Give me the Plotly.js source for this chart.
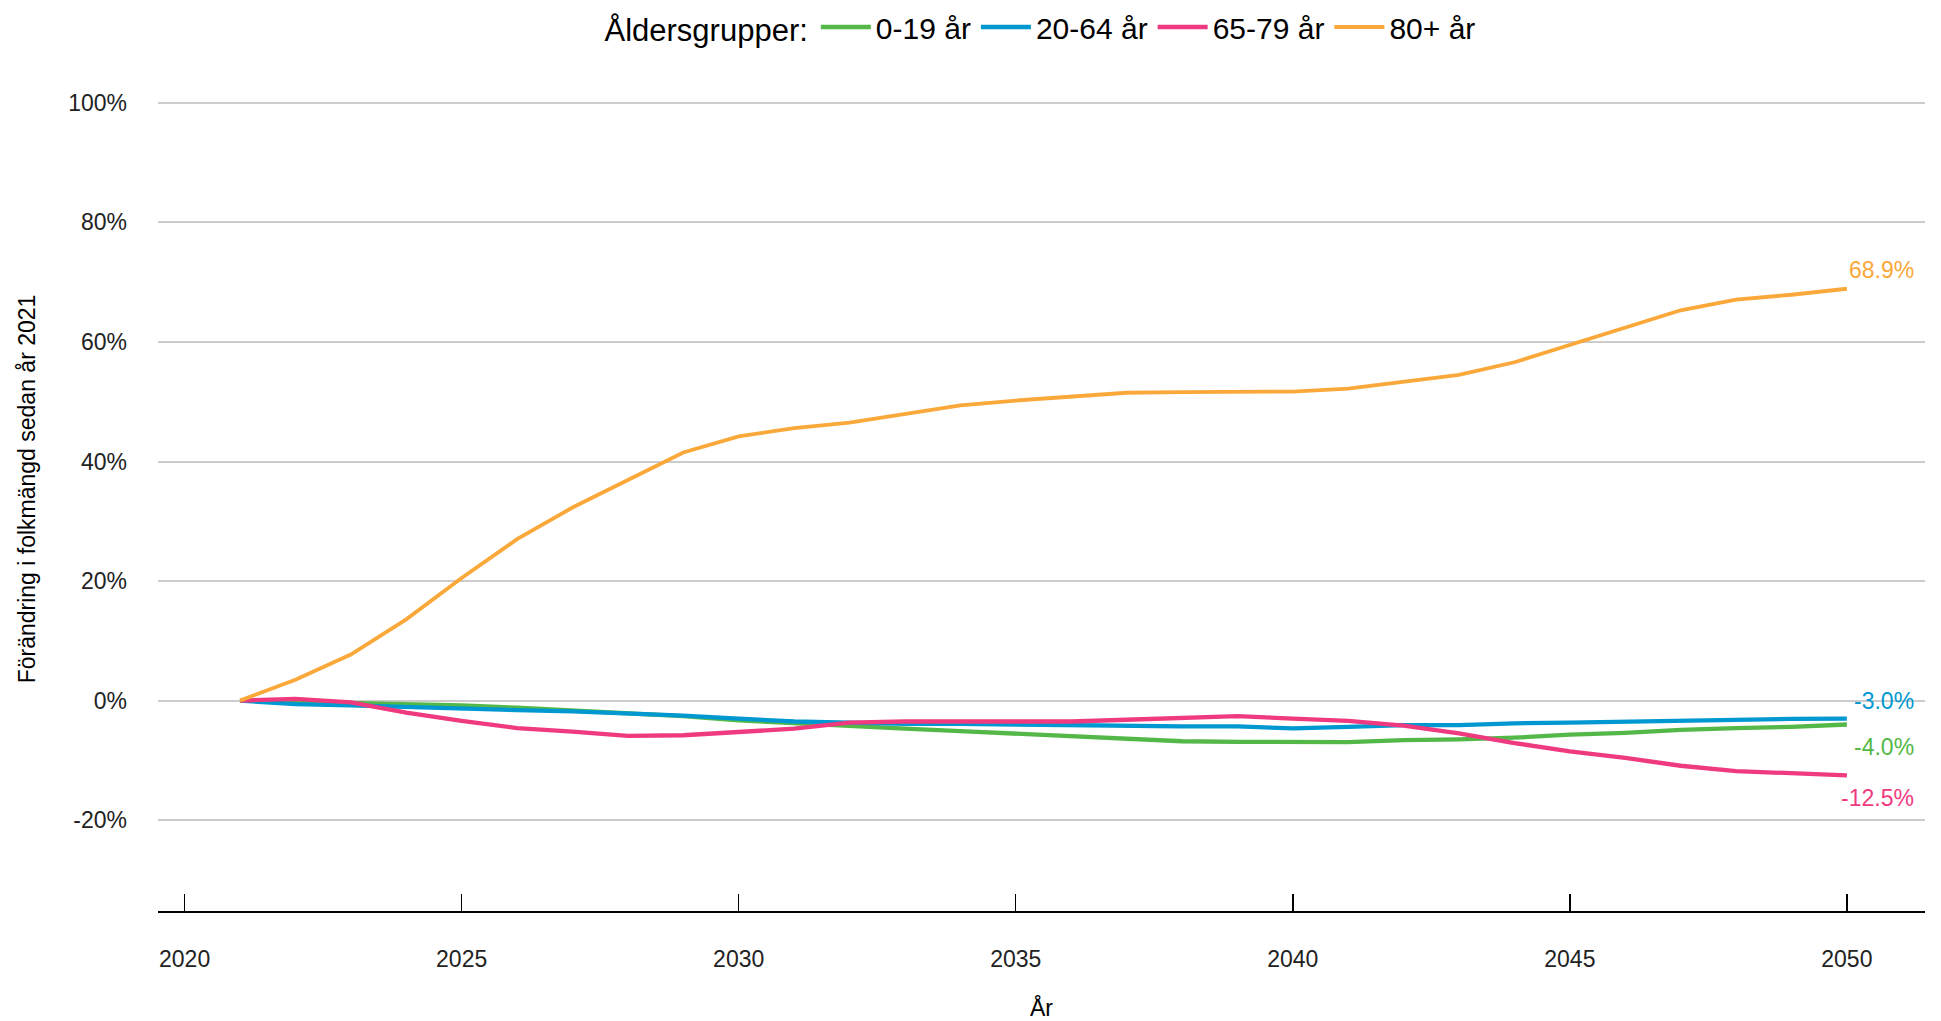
<!DOCTYPE html>
<html>
<head>
<meta charset="utf-8">
<script src="https://cdn.plot.ly/plotly-3.0.1.min.js"></script>
<style>
html,body{margin:0;padding:0;background:#fff;}
#chart{width:1941px;height:1021px;}
</style>
</head>
<body>
<div id="chart"></div>
<script>
const years = [2021,2022,2023,2024,2025,2026,2027,2028,2029,2030,2031,2032,2033,2034,2035,2036,2037,2038,2039,2040,2041,2042,2043,2044,2045,2046,2047,2048,2049,2050];

const seriesNames = ["0-19 år", "20-64 år", "65-79 år", "80+ år"];
const seriesColors = ["#53B848", "#0098D0", "#EF3A80", "#FBA83A"];

const age0_19 = [0,-0.2,-0.3,-0.5,-0.8,-1.2,-1.7,-2.1,-2.6,-3.3,-3.8,-4.3,-4.7,-5.1,-5.5,-5.9,-6.3,-6.8,-6.9,-6.95,-6.95,-6.6,-6.5,-6.2,-5.7,-5.4,-4.9,-4.6,-4.4,-4.0];
const age20_64 = [0,-0.6,-0.8,-1.1,-1.3,-1.6,-1.8,-2.1,-2.5,-3.0,-3.5,-3.7,-3.9,-3.9,-4.0,-4.2,-4.3,-4.3,-4.3,-4.65,-4.4,-4.1,-4.1,-3.8,-3.7,-3.5,-3.3,-3.25,-3.05,-3.0];
const age65_79 = [0,0.3,-0.3,-2.0,-3.4,-4.6,-5.2,-5.9,-5.8,-5.2,-4.7,-3.7,-3.5,-3.5,-3.5,-3.5,-3.2,-2.9,-2.6,-3.0,-3.4,-4.2,-5.5,-7.1,-8.5,-9.6,-10.9,-11.8,-12.1,-12.5];
const age80plus = [0,3.5,7.7,13.6,20.5,27.0,32.3,36.9,41.5,44.2,45.6,46.5,47.9,49.4,50.2,50.9,51.5,51.6,51.6,51.7,52.2,53.3,54.5,56.6,59.5,62.3,65.3,67.1,67.9,68.9];

const yTickVals = [-20,0,20,40,60,80,100];
const yTickText = ["-20%","0%","20%","40%","60%","80%","100%"];
const xTickVals = [2020,2025,2030,2035,2040,2045,2050];

const legendTitle = "Åldersgrupper:";
const xTitle = "År";
const yTitle = "Förändring i folkmängd sedan år 2021";

const allSeries = [age0_19, age20_64, age65_79, age80plus];
const labelShift = [-22, 18, -23, 19];

const FONT = "Liberation Sans, Arial, sans-serif";

const traces = allSeries.map((vals, i) => ({
  type: "scatter",
  mode: "lines",
  x: years,
  y: vals,
  name: seriesNames[i],
  line: {color: seriesColors[i], width: i === 3 ? 3.8 : 4.3},
  hoverinfo: "skip"
}));

const annotations = allSeries.map((vals, i) => ({
  x: years[years.length - 1],
  y: vals[vals.length - 1],
  xref: "x", yref: "y",
  text: vals[vals.length - 1].toFixed(1) + "%",
  showarrow: false,
  xanchor: "right",
  yanchor: "middle",
  xshift: 69,
  yshift: labelShift[i],
  font: {family: FONT, size: 23, color: seriesColors[i]}
}));

const layout = {
  width: 1941,
  height: 1021,
  paper_bgcolor: "#ffffff",
  plot_bgcolor: "#ffffff",
  margin: {l: 158, r: 16, t: 67, b: 110, autoexpand: false},
  font: {family: FONT, color: "#000"},
  showlegend: true,
  legend: {
    orientation: "h",
    x: 0.5, xanchor: "center",
    xref: "paper",
    y: 1 - 27/1021, yanchor: "middle",
    yref: "container",
    font: {family: FONT, size: 30, color: "#000"},
    title: {text: legendTitle, side: "left", font: {family: FONT, size: 31, color: "#000"}},
    itemwidth: 50,
    tracegroupgap: 0
  },
  xaxis: {
    range: [2019.52, 2051.41],
    tickmode: "array",
    tickvals: xTickVals,
    ticktext: xTickVals.map(String),
    ticks: "inside",
    ticklen: 17,
    tickwidth: 1.5,
    tickcolor: "#000",
    showline: true,
    linecolor: "#000",
    linewidth: 2,
    showgrid: false,
    zeroline: false,
    ticklabelstandoff: 26,
    tickfont: {family: FONT, size: 23, color: "#222"},
    title: {text: xTitle, standoff: 34, font: {family: FONT, size: 23, color: "#000"}},
    automargin: false
  },
  yaxis: {
    range: [-35.2, 106],
    tickmode: "array",
    tickvals: yTickVals,
    ticktext: yTickText,
    ticks: "",
    showline: false,
    showgrid: true,
    gridcolor: "#CCCCCC",
    gridwidth: 2,
    zeroline: false,
    ticklabelstandoff: 30,
    tickfont: {family: FONT, size: 23, color: "#222"},
    title: {text: yTitle, standoff: 26, font: {family: FONT, size: 23, color: "#000"}},
    automargin: false
  },
  annotations: annotations
};

Plotly.newPlot("chart", traces, layout, {displayModeBar: false, staticPlot: true});
</script>
</body>
</html>
